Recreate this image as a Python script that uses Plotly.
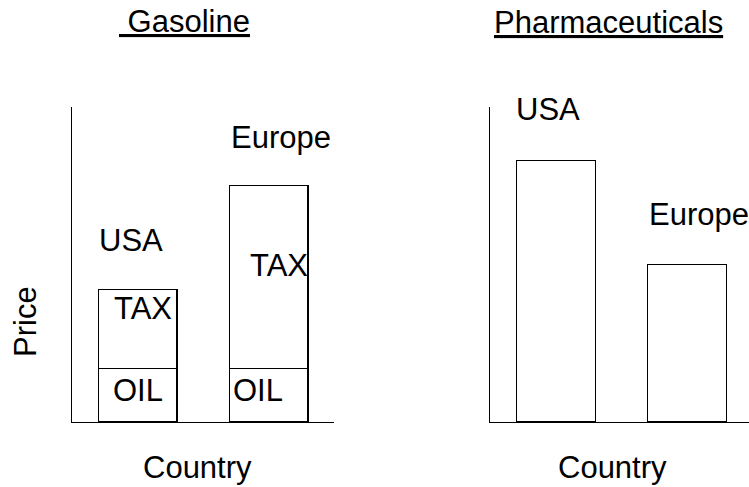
import plotly.graph_objects as go

# ---- data ----
countries = ["USA", "Europe"]
gas_oil = [17, 17]
gas_tax = [25, 58]
pharma_price = [83, 50]
seg_labels = ["OIL", "TAX"]
panel_titles = ["Gasoline", "Pharmaceuticals"]
x_title = "Country"
y_title = "Price"

FONT = "Liberation Sans, Arial, sans-serif"
FS = 31
W, H = 749, 487

def px_x(p):
    return p / W

def px_y(p):
    return (H - p) / H

fig = go.Figure()
bar_style = dict(marker=dict(color="white", line=dict(color="black", width=1.4)),
                 width=0.6, showlegend=False, hoverinfo="skip")

fig.add_trace(go.Bar(x=[0, 1], y=gas_oil, xaxis="x", yaxis="y", name=seg_labels[0], **bar_style))
fig.add_trace(go.Bar(x=[0, 1], y=gas_tax, xaxis="x", yaxis="y", name=seg_labels[1], **bar_style))
fig.add_trace(go.Bar(x=[0, 1], y=pharma_price, xaxis="x2", yaxis="y2", name="Price", **bar_style))

ax_common = dict(showgrid=False, zeroline=False, showticklabels=False, ticks="",
                 showline=True, linecolor="black", linewidth=1.3, fixedrange=True)
ydom = [px_y(422), px_y(107)]

fig.update_layout(
    width=W, height=H, margin=dict(l=0, r=0, t=0, b=0),
    paper_bgcolor="white", plot_bgcolor="white",
    barmode="stack", bargap=0,
    font=dict(family=FONT, size=FS, color="black"),
    xaxis=dict(domain=[px_x(72), px_x(334)], range=[-0.5, 1.5], anchor="y", **ax_common),
    yaxis=dict(domain=ydom, range=[0, 100], anchor="x", **ax_common),
    xaxis2=dict(domain=[px_x(490), 1.0], range=[-0.504, 1.473], anchor="y2", **ax_common),
    yaxis2=dict(domain=ydom, range=[0, 100], anchor="x2", **ax_common),
)

ann = []
def data_label(text, x, y, xref, yref):
    ann.append(dict(text=text, x=x, y=y, xref=xref, yref=yref, showarrow=False,
                    xanchor="center", yanchor="middle", font=dict(size=FS)))

# Gasoline panel labels
data_label(countries[0], -0.052, 57.5, "x", "y")
data_label(countries[1], 1.092, 90.4, "x", "y")
data_label(seg_labels[1], 0.042, 36.0, "x", "y")
data_label(seg_labels[1], 1.080, 49.6, "x", "y")
data_label(seg_labels[0], 0.0, 9.9, "x", "y")
data_label(seg_labels[0], 0.916, 9.9, "x", "y")
# Pharmaceuticals panel labels
data_label(countries[0], -0.0575, 99.1, "x2", "y2")
data_label(countries[1], 1.091, 66.0, "x2", "y2")

def paper_label(text, x, y, angle=0):
    ann.append(dict(text=text, x=x, y=y, xref="paper", yref="paper", showarrow=False,
                    xanchor="center", yanchor="middle", textangle=angle, font=dict(size=FS)))

paper_label("<u>\u00a0" + panel_titles[0] + "</u>", px_x(184), px_y(21.5))
paper_label("<u>" + panel_titles[1] + "</u>", px_x(608.5), px_y(22.5))
paper_label(x_title, px_x(197), px_y(467))
paper_label(x_title, px_x(612.3), px_y(467))
paper_label(y_title, px_x(26), px_y(322), angle=-90)

fig.update_layout(annotations=ann)
fig.write_html("out.html",
               config={"displayModeBar": False, "staticPlot": True},
               post_script="document.body.style.margin='0';document.body.style.overflow='hidden';")
